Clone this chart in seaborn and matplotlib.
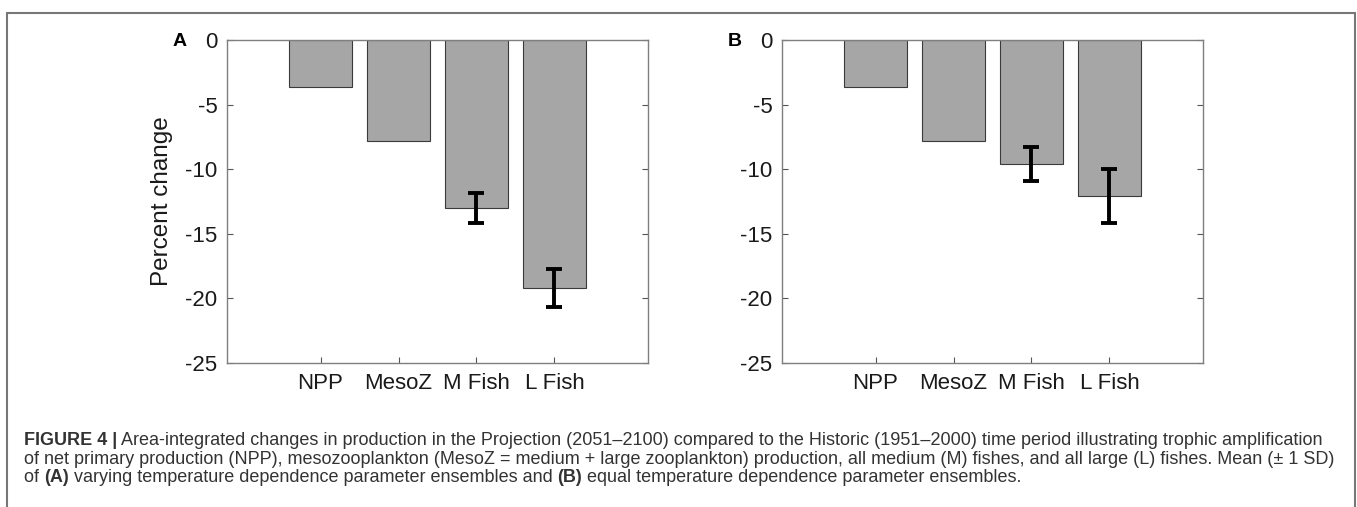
import numpy as np
import pandas as pd
import matplotlib
matplotlib.use("Agg")
import matplotlib.pyplot as plt
from matplotlib.patches import Rectangle
import seaborn as sns

# ---- data ----
categories = ["NPP", "MesoZ", "M Fish", "L Fish"]
mean_A = [-3.6, -7.8, -13.0, -19.2]
sd_A = [np.nan, np.nan, 1.15, 1.5]
mean_B = [-3.6, -7.8, -9.6, -12.1]
sd_B = [np.nan, np.nan, 1.3, 2.1]
yticks = [0, -5, -10, -15, -20, -25]
panel_labels = ["A", "B"]
ylabel = "Percent change"

sns.set_style("white")
plt.rcParams["font.family"] = ["Liberation Sans", "DejaVu Sans"]

W, H = 1357, 507
fig = plt.figure(figsize=(W / 100, H / 100), dpi=100)

def px_axes(left, top, right, bottom):
    return fig.add_axes([left / W, 1 - bottom / H, (right - left) / W, (bottom - top) / H])

axA = px_axes(227, 40, 648, 363)
axB = px_axes(782, 40, 1203, 363)

frame_col = "#7f7f7f"
for ax, means, sds, lab in [(axA, mean_A, sd_A, panel_labels[0]), (axB, mean_B, sd_B, panel_labels[1])]:
    df = pd.DataFrame({"cat": categories, "val": means, "sd": sds})
    sns.barplot(data=df, x="cat", y="val", order=categories, color="#a6a6a6",
                saturation=1, width=0.8, errorbar=None, edgecolor="#3a3a3a",
                linewidth=0.8, ax=ax)
    pos = np.arange(len(categories))
    m = ~df["sd"].isna().values
    ax.errorbar(pos[m], df["val"].values[m], yerr=df["sd"].values[m], fmt="none",
                ecolor="black", elinewidth=2.8, capsize=5.5, capthick=2.8, zorder=5)
    ax.set_xlim(-1.2, 4.2)
    ax.set_ylim(-25, 0)
    ax.set_yticks(yticks)
    ax.set_yticklabels([str(t) for t in yticks])
    ax.set_xlabel("")
    ax.set_ylabel("")
    for s in ax.spines.values():
        s.set_visible(True)
        s.set_color(frame_col)
        s.set_linewidth(1.0)
    ax.tick_params(axis="both", direction="in", length=4, width=0.8, color="#555555",
                   labelsize=16, labelcolor="#1a1a1a", pad=7,
                   top=True, right=True, bottom=True, left=True)
    ax.text(-0.112, 0.995, lab, transform=ax.transAxes, fontsize=14, fontweight="bold",
            ha="center", va="center", color="black")

axA.set_ylabel(ylabel, fontsize=17.5, color="#1a1a1a", labelpad=9)

# ---- figure frame ----
fig.patches.append(Rectangle((7 / W, -0.2), (1355 - 7) / W, 1.2 - 13 / H, transform=fig.transFigure,
                             fill=False, edgecolor="#777777", linewidth=1.5, zorder=10))

# ---- caption ----
cap_size = 13.0
lines = [
    [("FIGURE 4 |", True),
     (" Area-integrated changes in production in the Projection (2051–2100) compared to the Historic (1951–2000) time period illustrating trophic amplification", False)],
    [("of net primary production (NPP), mesozooplankton (MesoZ = medium + large zooplankton) production, all medium (M) fishes, and all large (L) fishes. Mean (± 1 SD)", False)],
    [("of ", False), ("(A)", True), (" varying temperature dependence parameter ensembles and ", False),
     ("(B)", True), (" equal temperature dependence parameter ensembles.", False)],
]
line_y = [445, 464, 482]
fig.canvas.draw()
renderer = fig.canvas.get_renderer()
for parts, yb in zip(lines, line_y):
    x = 24
    for txt, bold in parts:
        t = fig.text(x / W, 1 - yb / H, txt, fontsize=cap_size,
                     fontweight="bold" if bold else "normal", color="#333333",
                     ha="left", va="baseline")
        bb = t.get_window_extent(renderer=renderer)
        x = bb.x1

fig.savefig("out.png", dpi=100)
